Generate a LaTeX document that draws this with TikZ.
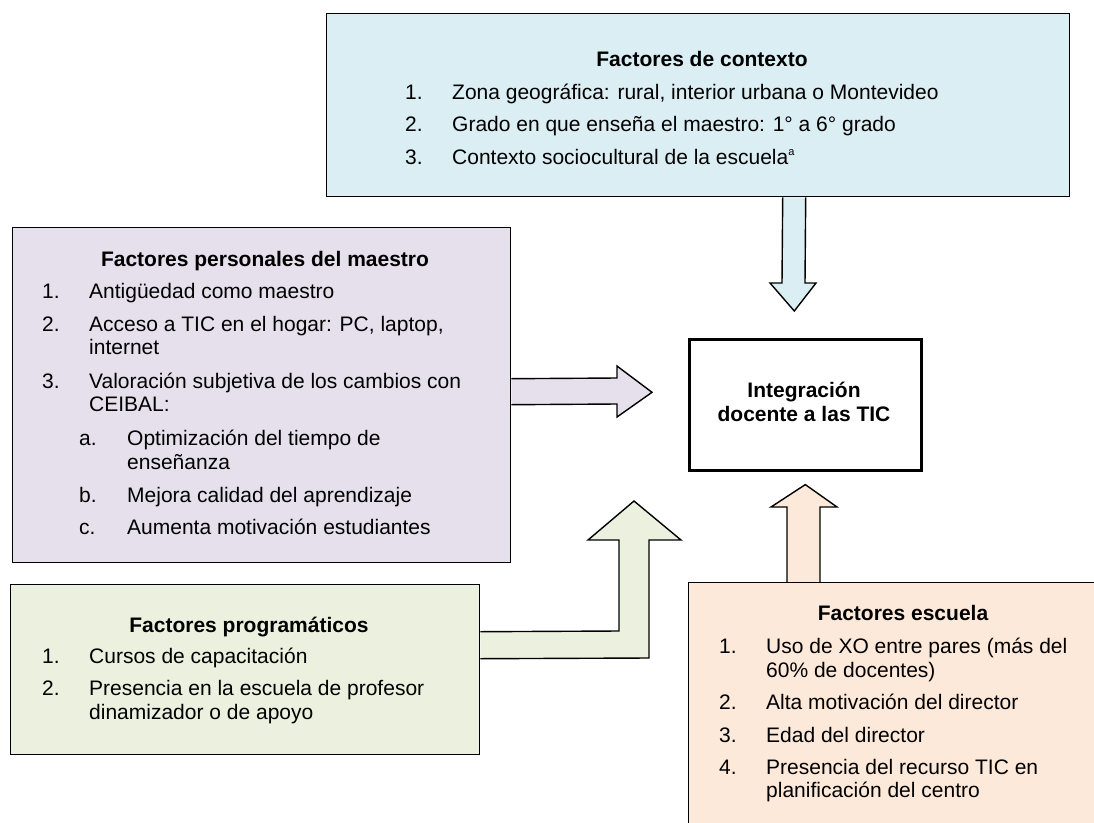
\documentclass[tikz,border=0pt]{standalone}
\usepackage{fontspec}
\setmainfont{Liberation Sans}
\usetikzlibrary{calc,backgrounds}
\definecolor{ctxfill}{HTML}{DAEEF3}
\definecolor{persfill}{HTML}{E5E0EC}
\definecolor{progfill}{HTML}{EBF1DE}
\definecolor{escfill}{HTML}{FDE9D9}
\newcommand\diafont{\fontsize{21}{24}\selectfont}
\begin{document}
\begin{tikzpicture}[x=1pt,y=-1pt,
  box/.style={draw=black, line width=1.4pt, rectangle, anchor=north west, inner sep=0pt},
  txt/.style={anchor=base west, inner sep=0pt, font=\diafont},
  ttl/.style={anchor=base, inner sep=0pt, font=\diafont\bfseries},
  barrow/.style={draw=black, line width=1.4pt, line join=miter}]
\useasboundingbox (0,0) rectangle (1094,822);
\clip (0,0) rectangle (1094,822);

% boxes
\node[box, fill=ctxfill, minimum width=743pt, minimum height=183pt] (ctx) at (326,13) {};
\node[box, fill=persfill, minimum width=498pt, minimum height=335pt] (pers) at (12,227) {};
\node[box, fill=progfill, minimum width=469pt, minimum height=170pt] (prog) at (10,584) {};
\node[box, fill=escfill, minimum width=430pt, minimum height=260pt] (esc) at (688,582) {};
\node[box, fill=white, line width=2.6pt, minimum width=232pt, minimum height=131pt] (tgt) at (688,338) {};

% block arrows (behind the boxes)
\begin{pgfonlayer}{background}
\draw[barrow, fill=ctxfill] ($(ctx.south)+(84.5,0)$) -- (782,283) -- (770,283)
  -- ($(tgt.north)+(-11,-27)$) -- (816,283) -- (805,283) -- ($(ctx.south)+(107.5,0)$);
\draw[barrow, fill=persfill] ($(pers.east)+(0,-16.5)$) -- (617,378) -- (617,366)
  -- ($(tgt.west)+(-36,-12.5)$) -- (617,417) -- (617,404) -- ($(pers.east)+(0,9.5)$);
\draw[barrow, fill=progfill] ($(prog.east)+(0,-38)$) -- (619,631) -- (619,540) -- (588,540)
  -- (634,501) -- (681,540) -- (649,540) -- (649,658) -- ($(prog.east)+(0,-11)$);
\draw[barrow, fill=escfill] ($(esc.north west)+(99,0)$) -- (787,507) -- (771,507)
  -- ($(tgt.south)+(0,13)$) -- (837,507) -- (820,507) -- ($(esc.north west)+(132,0)$);
\end{pgfonlayer}

% central box text
\node[ttl] (t1) at (804,397) {Integración};
\node[ttl] (t2) at (804,421) {docente a las TIC};

% Factores de contexto
\node[ttl] (c0) at (702,66) {Factores de contexto};
\node[txt] (c1n) at (405,99) {1.};
\node[txt] (c1) at (452,99) {Zona geográfica: rural, interior urbana o Montevideo};
\node[txt] (c2n) at (405,131) {2.};
\node[txt] (c2) at (452,131) {Grado en que enseña el maestro: 1° a 6° grado};
\node[txt] (c3n) at (405,164) {3.};
\node[txt] (c3) at (452,164) {Contexto sociocultural de la escuela\raisebox{9pt}{\fontsize{11}{11}\selectfont a}};

% Factores personales del maestro
\node[ttl] (p0) at (265,266) {Factores personales del maestro};
\node[txt] (p1n) at (42,298) {1.};
\node[txt] (p1) at (89,298) {Antigüedad como maestro};
\node[txt] (p2n) at (42,331) {2.};
\node[txt] (p2) at (89,331) {Acceso a TIC en el hogar: PC, laptop,};
\node[txt] (p2b) at (89,354) {internet};
\node[txt] (p3n) at (42,388) {3.};
\node[txt] (p3) at (89,388) {Valoración subjetiva de los cambios con};
\node[txt] (p3b) at (89,411) {CEIBAL:};
\node[txt] (pan) at (79,445) {a.};
\node[txt] (pa) at (127,445) {Optimización del tiempo de};
\node[txt] (pab) at (127,469) {enseñanza};
\node[txt] (pbn) at (79,502) {b.};
\node[txt] (pb) at (127,502) {Mejora calidad del aprendizaje};
\node[txt] (pcn) at (79,534) {c.};
\node[txt] (pc) at (127,534) {Aumenta motivación estudiantes};

% Factores programáticos
\node[ttl] (g0) at (249,632) {Factores programáticos};
\node[txt] (g1n) at (42,663) {1.};
\node[txt] (g1) at (89,663) {Cursos de capacitación};
\node[txt] (g2n) at (42,695) {2.};
\node[txt] (g2) at (89,695) {Presencia en la escuela de profesor};
\node[txt] (g2b) at (89,719) {dinamizador o de apoyo};

% Factores escuela
\node[ttl] (e0) at (903,620) {Factores escuela};
\node[txt] (e1n) at (719,653) {1.};
\node[txt] (e1) at (766,653) {Uso de XO entre pares (más del};
\node[txt] (e1b) at (766,677) {60\% de docentes)};
\node[txt] (e2n) at (719,709) {2.};
\node[txt] (e2) at (766,709) {Alta motivación del director};
\node[txt] (e3n) at (719,742) {3.};
\node[txt] (e3) at (766,742) {Edad del director};
\node[txt] (e4n) at (719,774) {4.};
\node[txt] (e4) at (766,774) {Presencia del recurso TIC en};
\node[txt] (e4b) at (766,797) {planificación del centro};
\end{tikzpicture}
\end{document}
